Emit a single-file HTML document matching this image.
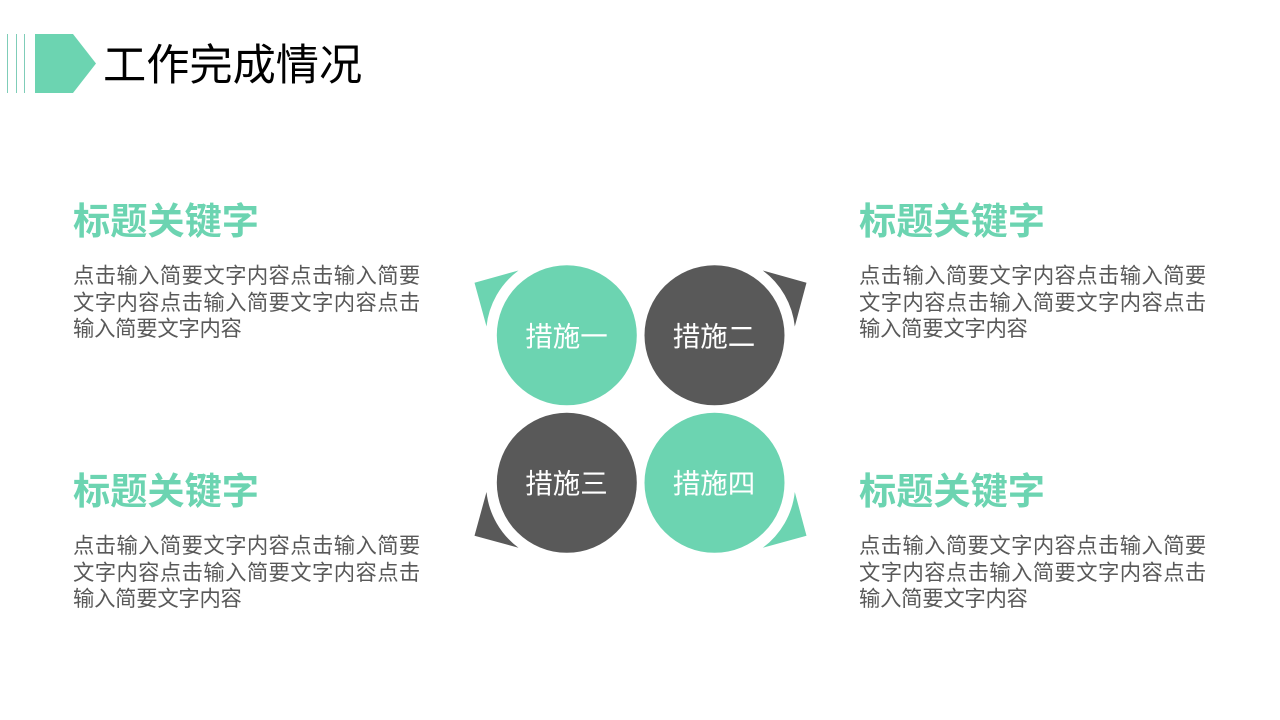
<!DOCTYPE html>
<html><head><meta charset="utf-8"><style>
html,body{margin:0;padding:0;background:#fff}
#p{position:relative;width:1280px;height:720px;overflow:hidden;background:#fff;font-family:"Liberation Sans","Noto Sans CJK SC",sans-serif}
.t{position:absolute;white-space:nowrap}
.h{font-size:37.2px;font-weight:700;color:#6cd4b1;line-height:44px;height:44px}
.b{font-size:21.33px;color:#595959;line-height:26.5px}
.b span{letter-spacing:.4px}
.b i{font-style:normal;letter-spacing:-.25px}
.c{font-size:27.5px;color:#fff;line-height:40px;width:140px;text-align:center}
svg{position:absolute;left:0;top:0}
</style></head><body><div id="p">
<svg width="1280" height="720" viewBox="0 0 1280 720">
<g stroke="#7fcdb8" stroke-width="1"><line x1="7.5" y1="34" x2="7.5" y2="93"/><line x1="16.5" y1="34" x2="16.5" y2="93"/><line x1="24.5" y1="34" x2="24.5" y2="93"/></g>
<polygon points="35,34 73,34 96,63.5 73,93 35,93" fill="#6cd4b1"/>
<circle cx="566.8" cy="335.3" r="70" fill="#6cd4b1"/>
<circle cx="714.5" cy="335.3" r="70" fill="#595959"/>
<circle cx="566.8" cy="482.8" r="70" fill="#595959"/>
<circle cx="714.5" cy="482.8" r="70" fill="#6cd4b1"/>
<path d="M474.5,282.7 L518.5,270.5 A80,80 0 0 0 486.5,326.5 Z" fill="#6cd4b1"/>
<path d="M806.5,282.7 L762.8,270.5 A80,80 0 0 1 794.8,326.5 Z" fill="#595959"/>
<path d="M474.5,535.7 L518.5,547.7 A80,80 0 0 1 486.5,492 Z" fill="#595959"/>
<path d="M806.5,535.7 L762.8,547.7 A80,80 0 0 0 794.8,492 Z" fill="#6cd4b1"/>
</svg>
<div class="t" style="left:103px;top:35px;font-size:43.2px;line-height:62px;color:#000">工作完成情况</div>
<div class="t h" style="left:73px;top:199px">标题关键字</div>
<div class="t b" style="left:73px;top:263px"><span>点击输入简要文字内容点击输入简要</span><br><span>文字内容点击输入简要文字内容点击</span><br><i>输入简要文字内容</i></div>
<div class="t h" style="left:859px;top:199px">标题关键字</div>
<div class="t b" style="left:859px;top:263px"><span>点击输入简要文字内容点击输入简要</span><br><span>文字内容点击输入简要文字内容点击</span><br><i>输入简要文字内容</i></div>
<div class="t h" style="left:73px;top:469px">标题关键字</div>
<div class="t b" style="left:73px;top:533px"><span>点击输入简要文字内容点击输入简要</span><br><span>文字内容点击输入简要文字内容点击</span><br><i>输入简要文字内容</i></div>
<div class="t h" style="left:859px;top:469px">标题关键字</div>
<div class="t b" style="left:859px;top:533px"><span>点击输入简要文字内容点击输入简要</span><br><span>文字内容点击输入简要文字内容点击</span><br><i>输入简要文字内容</i></div>
<div class="t c" style="left:496.5px;top:316.5px">措施一</div>
<div class="t c" style="left:644px;top:316.5px">措施二</div>
<div class="t c" style="left:496.5px;top:463.5px">措施三</div>
<div class="t c" style="left:644px;top:463.5px">措施四</div>
</div></body></html>
